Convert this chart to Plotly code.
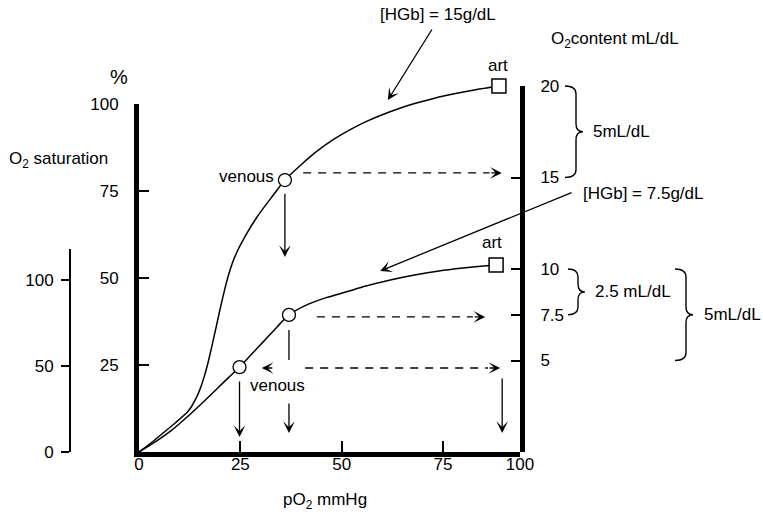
import plotly.graph_objects as go

W, H = 763, 517

# ---------------- data ----------------
# pO2 (mmHg) vs O2 content (mL/dL) for the two haemoglobin concentrations
hgb15_po2 = [0, 3, 6, 9, 12, 13, 14, 15, 16, 17, 18, 19, 20, 21, 22, 23, 24, 25, 27, 29, 31, 33, 36,
             40, 44, 48, 52, 56, 60, 64, 68, 72, 76, 80, 84, 88.8]
hgb15_content = [0, 0.5, 1.05, 1.6, 2.2, 2.5, 2.9, 3.4, 4.05, 4.85, 5.8, 6.8, 7.8, 8.75, 9.6, 10.3,
                 10.85, 11.3, 12.1, 12.8, 13.42, 14.0, 14.86,
                 15.7, 16.45, 17.08, 17.6, 18.05, 18.43, 18.76, 19.04, 19.28, 19.49, 19.67, 19.83, 20.0]

hgb75_po2 = [0, 4, 8, 12, 16, 19, 22, 24.8, 28, 31, 34, 37, 41, 46, 51, 56, 62, 68, 74, 80, 85, 88.1]
hgb75_content = [0, 0.55, 1.18, 1.94, 2.76, 3.4, 4.05, 4.64, 5.4, 6.1, 6.82, 7.49, 8.0, 8.42, 8.74, 9.07,
                 9.4, 9.67, 9.89, 10.05, 10.16, 10.22]

venous_po2 = [36.0, 24.8, 37.0]
venous_content = [14.86, 4.64, 7.49]
art_po2 = [88.8, 88.1]
art_content = [20.0, 10.22]

# dashed content-transfer arrows: level, start pO2, tip pO2
dash_levels = [15.25, 7.38, 4.59]
dash_start = [40.5, 43.9, 41.0]
dash_tip = [89.5, 85.4, 89.1]

x_ticks = [0, 25, 50, 75]
x_tick_labels = ["0", "25", "50", "75", "100"]
sat_ticks = [25, 50, 75, 100]
content_ticks = [5, 7.5, 10, 15, 20]
content_tick_labels = ["5", "7.5", "10", "15", "20"]
sat2_ticks = [0, 50, 100]

# ---------------- layout geometry ----------------
X_MAX = 94
FONT = "Liberation Sans, Arial, sans-serif"
x_dom = [139 / W, 520 / W]
y_bot = (H - 452) / H
y_dom = [y_bot, (H - 104) / H]
y2_dom = [y_bot, (H - 86) / H]
y3_dom = [y_bot, (H - 249) / H]
Y2_MAX = 20


def c2paper(c):
    return y2_dom[0] + c / Y2_MAX * (y2_dom[1] - y2_dom[0])


fig = go.Figure()

# curves
for xs, ys in [(hgb15_po2, hgb15_content), (hgb75_po2, hgb75_content)]:
    fig.add_trace(go.Scatter(x=xs, y=ys, mode="lines", xaxis="x", yaxis="y2",
                             line=dict(color="black", width=1.5, shape="spline", smoothing=0.8),
                             hoverinfo="skip", showlegend=False))

# dashed lines
for lvl, s, t in zip(dash_levels, dash_start, dash_tip):
    fig.add_trace(go.Scatter(x=[s, t - 3], y=[lvl, lvl], mode="lines", xaxis="x", yaxis="y2",
                             line=dict(color="black", width=1.3, dash="8px,7px"),
                             hoverinfo="skip", showlegend=False))

# short vertical segment under the second lower venous point
fig.add_trace(go.Scatter(x=[venous_po2[2], venous_po2[2]],
                         y=[venous_content[2] - 0.82, venous_content[2] - 2.46],
                         mode="lines", xaxis="x", yaxis="y2",
                         line=dict(color="black", width=1.3), hoverinfo="skip", showlegend=False))

# markers
fig.add_trace(go.Scatter(x=venous_po2, y=venous_content, mode="markers", xaxis="x", yaxis="y2",
                         marker=dict(symbol="circle", size=13, color="white",
                                     line=dict(color="black", width=1.3)),
                         cliponaxis=False, hoverinfo="skip", showlegend=False))
fig.add_trace(go.Scatter(x=art_po2, y=art_content, mode="markers", xaxis="x", yaxis="y2",
                         marker=dict(symbol="square", size=14, color="white",
                                     line=dict(color="black", width=1.5)),
                         cliponaxis=False, hoverinfo="skip", showlegend=False))

# dummy traces so the other axes exist
fig.add_trace(go.Scatter(x=[None], y=[None], xaxis="x", yaxis="y", showlegend=False, hoverinfo="skip"))
fig.add_trace(go.Scatter(x=[None], y=[None], xaxis="x", yaxis="y3", showlegend=False, hoverinfo="skip"))

ann = []


def arrow(x, y, ax, ay, axref="x", ayref="y2"):
    ann.append(dict(x=x, y=y, ax=ax, ay=ay, xref="x", yref="y2", axref=axref, ayref=ayref,
                    text="", showarrow=True, arrowhead=3, arrowsize=1.5, arrowwidth=1.3,
                    arrowcolor="black"))


def label(x, y, text, xref="x", yref="y2", xanchor="center", yanchor="middle", size=17, yshift=0):
    ann.append(dict(x=x, y=y, xref=xref, yref=yref, text=text, showarrow=False, yshift=yshift,
                    xanchor=xanchor, yanchor=yanchor, font=dict(size=size, family=FONT, color="black")))


# arrowheads on dashed lines
arrow(dash_tip[0], dash_levels[0], -12, 0, "pixel", "pixel")
arrow(dash_tip[1], dash_levels[1], -12, 0, "pixel", "pixel")
arrow(dash_tip[2], dash_levels[2], -12, 0, "pixel", "pixel")
arrow(30.3, dash_levels[2], 12, 0, "pixel", "pixel")

# vertical arrows
arrow(venous_po2[0], 10.66, venous_po2[0], 14.2)
arrow(venous_po2[1], 0.82, venous_po2[1], 3.93)
arrow(venous_po2[2], 1.04, venous_po2[2], 2.73)
arrow(89.6, 1.04, 89.6, 4.1)

# pointer arrows for the Hgb labels
arrow(61.4, 19.23, 72.5, 23.17)
arrow(59.5, 9.89, 107.1, 14.21)

# labels on the chart
label(33.8, 15.03, "venous", xanchor="right")
label(34.2, 3.66, "venous")
label(art_po2[0] - 0.2, art_content[0], "art", yshift=21)
label(art_po2[1] - 1.1, art_content[1], "art", yshift=22)

label(438 / W, (H - 15) / H, "[HGb] = 15g/dL", "paper", "paper")
label(643.5 / W, (H - 193) / H, "[HGb] = 7.5g/dL", "paper", "paper")
label(614.5 / W, (H - 40) / H, "O<sub>2</sub>content mL/dL", "paper", "paper")
label(119 / W, (H - 77) / H, "%", "paper", "paper", size=20)
label(58 / W, (H - 160) / H, "O<sub>2</sub> saturation", "paper", "paper")
label(325 / W, (H - 501) / H, "pO<sub>2</sub> mmHg", "paper", "paper")
label(591 / W, c2paper(17.5), "5mL/dL", "paper", "paper", xanchor="left")
label(593 / W, c2paper(8.75), "2.5 mL/dL", "paper", "paper", xanchor="left")
label(702 / W, c2paper(7.5), "5mL/dL", "paper", "paper", xanchor="left")


def brace(x_end, x_spine, x_tip, c_top, c_bot):
    xe, xs, xt = x_end / W, x_spine / W, x_tip / W
    yt, yb = c2paper(c_top), c2paper(c_bot)
    ym = (yt + yb) / 2
    r = 8 / H
    path = (f"M{xe},{yt} Q{xs},{yt} {xs},{yt - r} L{xs},{ym + r} Q{xs},{ym} {xt},{ym} "
            f"Q{xs},{ym} {xs},{ym - r} L{xs},{yb + r} Q{xs},{yb} {xe},{yb}")
    return dict(type="path", path=path, xref="paper", yref="paper",
                line=dict(color="black", width=1.4))


shapes = [brace(565, 576, 583, 20, 15), brace(568, 578, 585, 10, 7.5), brace(675, 686, 693, 10, 5)]

fig.update_layout(
    width=W, height=H, margin=dict(l=0, r=0, t=0, b=0, autoexpand=False),
    paper_bgcolor="white", plot_bgcolor="rgba(0,0,0,0)",
    font=dict(family=FONT, size=17, color="black"),
    showlegend=False,
    xaxis=dict(domain=x_dom, range=[0, X_MAX], anchor="y", showgrid=False, zeroline=False,
               showline=True, linewidth=5, linecolor="black",
               tickvals=x_ticks + [X_MAX], ticktext=x_tick_labels,
               ticks="inside", ticklen=11, tickwidth=1.6, tickcolor="black",
               ticklabelstandoff=-7, fixedrange=True),
    yaxis=dict(domain=y_dom, range=[0, 100], anchor="x", side="left", showgrid=False, zeroline=False,
               showline=True, linewidth=5, linecolor="black", tickvals=sat_ticks,
               ticks="inside", ticklen=10, tickwidth=1.6, tickcolor="black",
               ticklabelstandoff=12, fixedrange=True),
    yaxis2=dict(domain=y2_dom, range=[0, Y2_MAX], anchor="x", side="right", showgrid=False,
                zeroline=False, showline=True, linewidth=5, linecolor="black",
                tickvals=content_ticks, ticktext=content_tick_labels,
                ticks="inside", ticklen=9, tickwidth=1.6, tickcolor="black",
                ticklabelstandoff=12, fixedrange=True),
    yaxis3=dict(domain=y3_dom, range=[0, 118], anchor="free", position=70 / W, side="left",
                showgrid=False, zeroline=False, showline=True, linewidth=1.8, linecolor="black",
                tickvals=sat2_ticks, ticks="outside", ticklen=8, tickwidth=1.6, tickcolor="black",
                ticklabelstandoff=4, fixedrange=True),
    annotations=ann,
    shapes=shapes,
)

fig.write_html("out.html", config={"displayModeBar": False},
               post_script="document.body.style.margin='0px';")
